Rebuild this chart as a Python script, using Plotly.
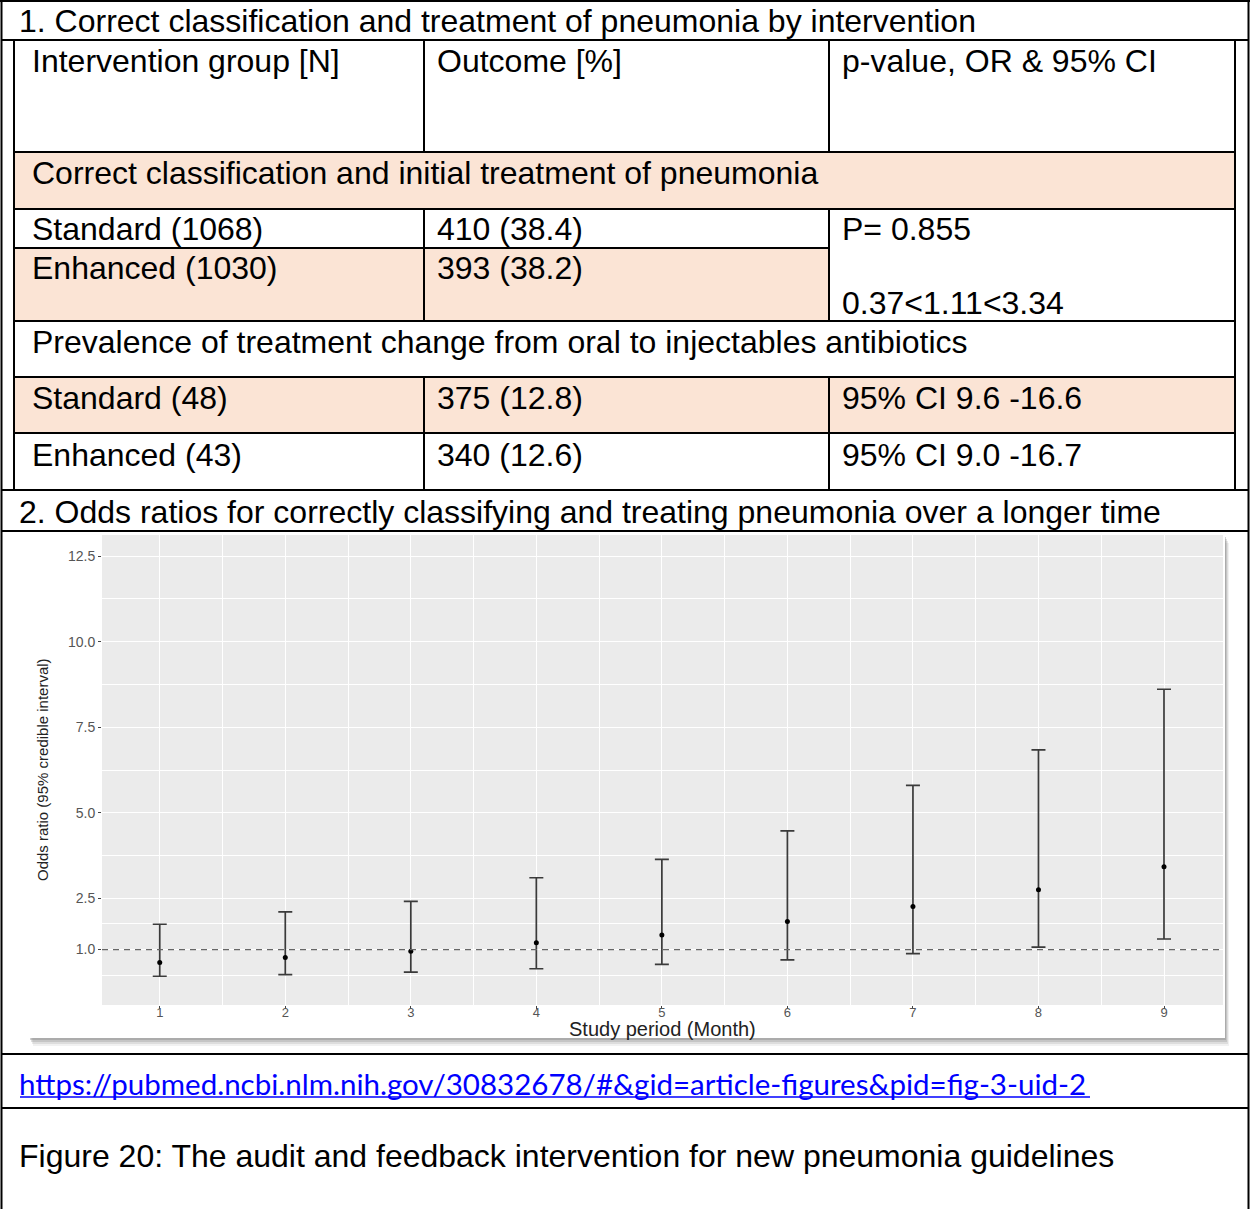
import plotly.graph_objects as go

W, H = 1250, 1209

# ---------------- data ----------------
months = [1, 2, 3, 4, 5, 6, 7, 8, 9]
odds_ratio = [0.62, 0.77, 0.95, 1.20, 1.43, 1.82, 2.26, 2.75, 3.42]
ci_lower = [0.22, 0.27, 0.34, 0.44, 0.57, 0.70, 0.88, 1.07, 1.31]
ci_upper = [1.74, 2.10, 2.41, 3.10, 3.64, 4.47, 5.80, 6.84, 8.61]
y_ticks = [1.0, 2.5, 5.0, 7.5, 10.0, 12.5]
y_tick_labels = ["1.0", "2.5", "5.0", "7.5", "10.0", "12.5"]
y_minor = [0.25, 1.75, 3.75, 6.25, 8.75, 11.25]
x_minor = [1.5, 2.5, 3.5, 4.5, 5.5, 6.5, 7.5, 8.5]
reference_or = 1.0

section1_title = "1. Correct classification and treatment of pneumonia by intervention"
header = ["Intervention group [N]", "Outcome [%]", "p-value, OR & 95% CI"]
sub1 = "Correct classification and initial treatment of pneumonia"
groups1 = ["Standard (1068)", "Enhanced (1030)"]
outcomes1 = ["410 (38.4)", "393 (38.2)"]
stats1 = ["P= 0.855", "0.37<1.11<3.34"]
sub2 = "Prevalence of treatment change from oral to injectables antibiotics"
groups2 = ["Standard (48)", "Enhanced (43)"]
outcomes2 = ["375 (12.8)", "340 (12.6)"]
stats2 = ["95% CI 9.6 -16.6", "95% CI 9.0 -16.7"]
section2_title = "2. Odds ratios for correctly classifying and treating pneumonia over a longer time"
link_text = "https://pubmed.ncbi.nlm.nih.gov/30832678/#&gid=article-figures&pid=fig-3-uid-2"
caption = "Figure 20: The audit and feedback intervention for new pneumonia guidelines"
x_title = "Study period (Month)"
y_title = "Odds ratio (95% credible interval)"


def px(x):
    return x / W


def py(y):
    return 1 - y / H


PEACH = "#FBE4D5"
TFONT = dict(family="Liberation Sans, Arial, sans-serif", size=32, color="black")

shapes = []
annotations = []


def rect(x0, y0, x1, y1, color, layer="below"):
    shapes.append(dict(type="rect", xref="paper", yref="paper",
                       x0=px(x0), x1=px(x1), y0=py(y0), y1=py(y1),
                       fillcolor=color, line=dict(width=0), layer=layer))


def hline(x0, x1, y, w=2):
    shapes.append(dict(type="line", xref="paper", yref="paper",
                       x0=px(x0), x1=px(x1), y0=py(y), y1=py(y),
                       line=dict(color="black", width=w), layer="above"))


def vline(x, y0, y1, w=2):
    shapes.append(dict(type="line", xref="paper", yref="paper",
                       x0=px(x), x1=px(x), y0=py(y0), y1=py(y1),
                       line=dict(color="black", width=w), layer="above"))


def text(x, y, s, font=TFONT, **kw):
    d = dict(xref="paper", yref="paper", x=px(x), y=py(y), text=s,
             showarrow=False, xanchor="left", yanchor="middle", font=font,
             borderpad=0)
    d.update(kw)
    annotations.append(d)


# ---------- fills ----------
L, R = 14, 1235
C1, C2 = 424, 829
rect(L, 152, R, 209, PEACH)
rect(L, 248, C2, 321, PEACH)
rect(L, 377, R, 433, PEACH)

# chart picture with drop shadow
for i, a in enumerate([0.10, 0.16, 0.24, 0.34]):
    off = 8 - 2 * i
    rect(29 + off / 2, 535 + off, 1225 + off / 2, 1038 + off, "rgba(120,120,120,%.2f)" % a)
rect(29, 533, 1225, 1038, "white")

# ---------- table lines ----------
hline(0, W, 1)
vline(1.5, 0, H)
vline(1248.5, 0, H)
hline(1.5, 1248.5, 40)
vline(L, 40, 490)
vline(R, 40, 490)
for yy in [152, 209, 321, 377, 433]:
    hline(L, R, yy)
hline(L, C2, 248)
for xx in [C1, C2]:
    vline(xx, 40, 152)
    vline(xx, 209, 321)
    vline(xx, 377, 490)
hline(1.5, 1248.5, 490)
hline(1.5, 1248.5, 531)
hline(1.5, 1248.5, 1054)
hline(1.5, 1248.5, 1108)

# ---------- table texts ----------
text(18, 21, section1_title)
text(31, 61, header[0])
text(436, 61, header[1])
text(841, 61, header[2])
text(31, 173, sub1)
text(31, 229, groups1[0])
text(436, 229, outcomes1[0])
text(841, 229, stats1[0])
text(31, 268, groups1[1])
text(436, 268, outcomes1[1])
text(841, 303, stats1[1])
text(31, 342, sub2)
text(31, 398, groups2[0])
text(436, 398, outcomes2[0])
text(841, 398, stats2[0])
text(31, 455, groups2[1])
text(436, 455, outcomes2[1])
text(841, 455, stats2[1])
text(18, 512, section2_title)
text(18, 1083, link_text,
     font=dict(family="Lato, Carlito, sans-serif", size=29.5, color="#0000FF"))
shapes.append(dict(type="line", xref="paper", yref="paper",
                   x0=px(20), x1=px(1090), y0=py(1097), y1=py(1097),
                   line=dict(color="#0000FF", width=1.5), layer="above"))
text(18, 1156, caption)

# ---------- chart ----------
PX0, PX1 = 102, 1223
PY0, PY1 = 535, 1005

fig = go.Figure()
fig.add_trace(go.Scatter(
    x=months, y=odds_ratio, mode="markers",
    marker=dict(color="black", size=5),
    error_y=dict(type="data", symmetric=False,
                 array=[u - o for u, o in zip(ci_upper, odds_ratio)],
                 arrayminus=[o - l for o, l in zip(odds_ratio, ci_lower)],
                 color="#3a3a3a", thickness=1.7, width=7),
    showlegend=False, hoverinfo="skip"))

# gray panel
shapes.append(dict(type="rect", xref="x domain", yref="y domain",
                   x0=0, x1=1, y0=0, y1=1, fillcolor="#EBEBEB",
                   line=dict(width=0), layer="below"))
# reference dashed line
shapes.append(dict(type="line", xref="x domain", yref="y",
                   x0=0, x1=1, y0=reference_or, y1=reference_or,
                   line=dict(color="#666666", width=1.3, dash="6px,5px"),
                   layer="above"))

tickfont = dict(family="Liberation Sans, Arial, sans-serif", size=14, color="#555555")
fig.update_xaxes(
    domain=[px(PX0), px(PX1)], range=[0.54, 9.47],
    tickmode="array", tickvals=months, ticktext=[str(m) for m in months],
    showgrid=True, gridcolor="white", gridwidth=1.3, zeroline=False,
    ticks="outside", ticklen=3, tickcolor="#444", tickwidth=1,
    ticklabelstandoff=-8,
    tickfont=dict(family="Liberation Sans, Arial, sans-serif", size=13, color="#555555"),
    showline=False,
    minor=dict(tickmode="array", tickvals=x_minor, showgrid=True,
               gridcolor="white", gridwidth=0.6, ticks=""))
fig.update_yaxes(
    domain=[py(PY1), py(PY0)], range=[-0.62, 13.12],
    tickmode="array", tickvals=y_ticks, ticktext=y_tick_labels,
    showgrid=True, gridcolor="white", gridwidth=1.3, zeroline=False,
    ticks="outside", ticklen=3, tickcolor="#444", tickwidth=1,
    tickfont=tickfont, showline=False,
    minor=dict(tickmode="array", tickvals=y_minor, showgrid=True,
               gridcolor="white", gridwidth=0.6, ticks=""))

text((PX0 + PX1) / 2, 1029, x_title,
     font=dict(family="Liberation Sans, Arial, sans-serif", size=20, color="#222"),
     xanchor="center")
text(42, (PY0 + PY1) / 2, y_title,
     font=dict(family="Liberation Sans Narrow, Liberation Sans, Arial, sans-serif",
               size=15, color="#222"),
     xanchor="center", textangle=-90)

fig.update_layout(
    width=W, height=H, autosize=False,
    margin=dict(l=0, r=0, t=0, b=0, pad=0),
    paper_bgcolor="white", plot_bgcolor="rgba(0,0,0,0)",
    shapes=shapes, annotations=annotations,
)

fig.write_html("out.html")
